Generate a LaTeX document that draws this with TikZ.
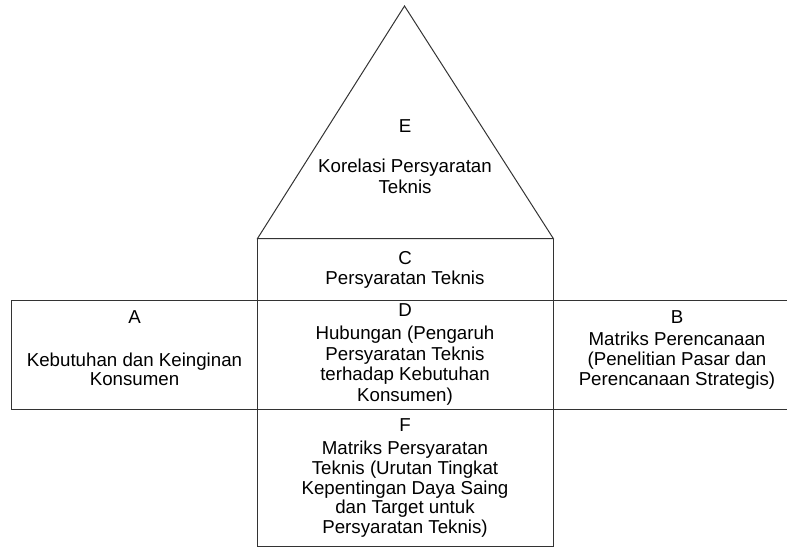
\documentclass[tikz,border=0pt]{standalone}
\usepackage{fontspec}
\setmainfont{Liberation Sans}
\begin{document}
\begin{tikzpicture}[x=1pt,y=-1pt,
  frame/.style={draw=black!80,line width=1pt},
  lbl/.style={anchor=north,inner sep=0pt,align=center,text=black}]
\useasboundingbox (0,0) rectangle (787,549);
% coordinates
\coordinate (apex) at (404.5,6);
\coordinate (bl) at (257.5,238.5);
\coordinate (br) at (553.3,238.5);
\coordinate (al) at (11.5,300.5);
\coordinate (alb) at (11.5,409);
\coordinate (rt) at (795,300.5);
\coordinate (rb) at (795,409);
\coordinate (fl) at (257.5,546.5);
\coordinate (fr) at (553.3,546.5);
\coordinate (dtl) at (257.5,300.5);
\coordinate (dbl) at (257.5,409);
% shapes
\draw[frame] (bl) -- (apex) -- (br) -- cycle;
\draw[frame] (bl) -- (fl) -- (fr) -- (br);
\draw[frame] (rt) -- (al) -- (alb) -- (rb);
% texts
\node[lbl,font=\fontsize{18.7}{21}\selectfont] (tE) at (405,119.2)
  {E\\[19pt]Korelasi Persyaratan\\Teknis};
\node[lbl,font=\fontsize{18.7}{20}\selectfont] (tC) at (405,251.7)
  {C\\Persyaratan Teknis};
\node[lbl,font=\fontsize{18.7}{20.6}\selectfont] (tD) at (405,303.9)
  {D\\[2.2pt]Hubungan (Pengaruh\\Persyaratan Teknis\\terhadap Kebutuhan\\Konsumen)};
\node[lbl,font=\fontsize{18.7}{18.2}\selectfont] (tA) at (134.5,310.7)
  {A\\[25pt]Kebutuhan dan Keinginan\\Konsumen};
\node[lbl,font=\fontsize{18.7}{20}\selectfont] (tB) at (677,310.1)
  {B\\[2.5pt]Matriks Perencanaan\\(Penelitian Pasar dan\\Perencanaan Strategis)};
\node[lbl,font=\fontsize{18.7}{19.8}\selectfont] (tF) at (405,418.7)
  {F\\[2.9pt]Matriks Persyaratan\\Teknis (Urutan Tingkat\\Kepentingan Daya Saing\\dan Target untuk\\Persyaratan Teknis)};
\end{tikzpicture}
\end{document}
